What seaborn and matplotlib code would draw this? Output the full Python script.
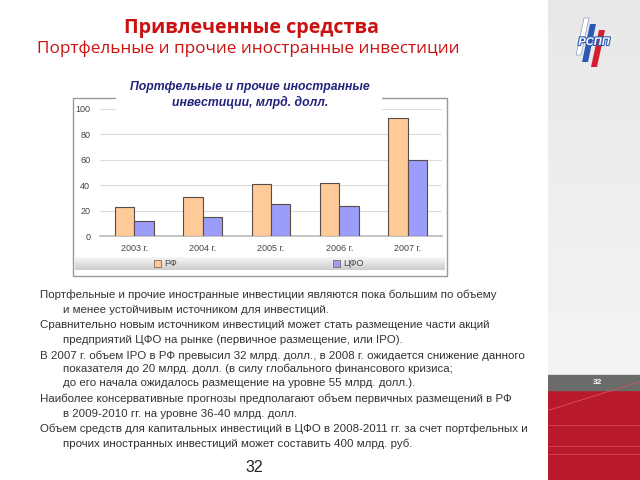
import numpy as np
import pandas as pd
import seaborn as sns
import matplotlib
matplotlib.use("Agg")
import matplotlib.pyplot as plt
import matplotlib.patheffects as pe
from matplotlib.patches import Rectangle, Polygon

# ---- data ----
years = ["2003 г.", "2004 г.", "2005 г.", "2006 г.", "2007 г."]
rf_values = [23, 31, 41, 41.5, 93]
cfo_values = [12, 15, 25, 23.5, 60]
series_names = ["РФ", "ЦФО"]
yticks = [0, 20, 40, 60, 80, 100]

slide_title = "Привлеченные средства"
slide_subtitle = "Портфельные и прочие иностранные инвестиции"
chart_title = "Портфельные и прочие иностранные\nинвестиции, млрд. долл."
body_lines = [
    ("Портфельные и прочие иностранные инвестиции являются пока большим по объему", 0),
    ("и менее устойчивым источником для инвестиций.", 1),
    ("Сравнительно новым источником инвестиций может стать размещение части акций", 0),
    ("предприятий ЦФО на рынке (первичное размещение, или IPO).", 1),
    ("В 2007 г. объем IPO в РФ превысил 32 млрд. долл., в 2008 г. ожидается снижение данного", 0),
    ("показателя до 20 млрд. долл. (в силу глобального финансового кризиса;", 1),
    ("до его начала ожидалось размещение на уровне 55 млрд. долл.).", 1),
    ("Наиболее консервативные прогнозы предполагают объем первичных размещений в РФ", 0),
    ("в 2009-2010 гг. на уровне 36-40 млрд. долл.", 1),
    ("Объем средств для капитальных инвестиций в ЦФО в 2008-2011 гг. за счет портфельных и", 0),
    ("прочих иностранных инвестиций может составить 400 млрд. руб.", 1),
]
page_number = "32"

df = pd.DataFrame({
    "year": years * 2,
    "value": rf_values + cfo_values,
    "series": [series_names[0]] * len(years) + [series_names[1]] * len(years),
})

sns.set_theme(style="white")
plt.rcParams["font.family"] = ["Liberation Sans", "DejaVu Sans"]

W, H = 640, 480
fig = plt.figure(figsize=(6.4, 4.8), dpi=100)
fig.patch.set_facecolor("white")

def fx(x):
    return x / W

def fy(y):
    return 1 - y / H

# ---- right decorative panel ----
bg = fig.add_axes([fx(548), 0, 1 - fx(548), 1], zorder=-5)
grad = np.linspace(0.91, 0.97, 256).reshape(-1, 1)
bg.imshow(np.dstack([grad, grad, grad]), aspect="auto", extent=[0, 1, 0, 1], origin="upper")
bg.add_patch(Rectangle((0, 0), 1, (480 - 390) / 480, color="#b8192b", zorder=2))
bg.add_patch(Rectangle((0, (480 - 390) / 480), 1, 15 / 480, color="#6b6b69", zorder=2))
for yy in [0.115, 0.07, 0.055]:
    bg.plot([0, 1], [yy, yy], color="#cf4455", lw=0.6, zorder=3)
bg.plot([0, 1], [0.145, 0.205], color="#d65565", lw=0.6, zorder=3)
bg.text(0.54, (480 - 382.5) / 480, page_number, color="white", fontsize=6,
        fontweight="bold", ha="center", va="center", zorder=4)
bg.set_xlim(0, 1); bg.set_ylim(0, 1); bg.axis("off")

# logo (simplified)
fig.add_artist(Polygon([(fx(590), fy(24)), (fx(596), fy(24)), (fx(588), fy(62)), (fx(582), fy(62))],
                       closed=True, facecolor="#2b59b5", edgecolor="none", zorder=3))
fig.add_artist(Polygon([(fx(599), fy(30)), (fx(605), fy(30)), (fx(597), fy(67)), (fx(591), fy(67))],
                       closed=True, facecolor="#d32030", edgecolor="none", zorder=3))
fig.add_artist(Polygon([(fx(584), fy(18)), (fx(589), fy(18)), (fx(581), fy(55)), (fx(576), fy(55))],
                       closed=True, facecolor="white", edgecolor="#8899bb", lw=0.5, zorder=2))
fig.text(fx(594), fy(42), "РСПП", fontsize=8, fontweight="bold", fontstyle="italic",
         color="white", ha="center", va="center", zorder=4,
         path_effects=[pe.withStroke(linewidth=1.6, foreground="#2b59b5")])

# ---- titles ----
fig.text(fx(251), fy(28), slide_title, fontsize=14.2, fontweight="bold", color="#cc1111",
         ha="center", va="center", family=["Open Sans", "DejaVu Sans"])
fig.text(fx(248), fy(49), slide_subtitle, fontsize=12.3, color="#cc1111",
         ha="center", va="center", family=["Open Sans", "DejaVu Sans"])

# ---- chart frame ----
fig.add_artist(Rectangle((fx(73), fy(276)), fx(447) - fx(73), fy(98) - fy(276),
                         facecolor="white", edgecolor="#9a9a9a", lw=1.0, zorder=-1))
# legend band gradient
lb = fig.add_axes([fx(75), fy(270), fx(445) - fx(75), fy(257) - fy(270)], zorder=1)
g2 = np.linspace(0.97, 0.80, 64).reshape(-1, 1)
lb.imshow(np.dstack([g2, g2, g2]), aspect="auto", extent=[0, 1, 0, 1], origin="upper")
lb.axis("off")

# ---- bar chart ----
ax = fig.add_axes([fx(100), fy(236), fx(442) - fx(100), fy(109) - fy(236)], zorder=2)
ax.patch.set_alpha(0)
sns.barplot(data=df, x="year", y="value", hue="series", palette=["#fdca98", "#9c9cfa"],
            saturation=1, width=0.57, edgecolor="#5a4a48", linewidth=0.8, ax=ax,
            legend=False, zorder=3)
ax.set_ylim(0, 100)
ax.set_yticks(yticks)
ax.set_xlim(-0.5, len(years) - 0.5)
ax.yaxis.grid(True, color="#dcdcdc", lw=0.8)
ax.set_axisbelow(True)
for s in ["top", "right", "left"]:
    ax.spines[s].set_visible(False)
ax.spines["bottom"].set_color("#bbbbbb")
ax.set_xlabel(""); ax.set_ylabel("")
ax.tick_params(axis="both", length=0, labelsize=6.5, labelcolor="#444444")
ax.tick_params(axis="x", pad=6)
ax.tick_params(axis="y", pad=7)

handles = [Rectangle((0, 0), 1, 1, facecolor=c, edgecolor="#7a6a60", lw=0.6)
           for c in ["#fdca98", "#9c9cfa"]]
leg = fig.legend(handles, series_names, loc="center", bbox_to_anchor=(fx(259), fy(264)),
                 ncol=2, frameon=False, fontsize=6.5, handlelength=0.7, handleheight=0.7,
                 handletextpad=0.4, columnspacing=17.3, labelcolor="#444444")
leg.set_zorder(4)

# title box masking the frame
fig.add_artist(Rectangle((fx(116), fy(112)), fx(382) - fx(116), fy(78) - fy(112),
                         facecolor="white", edgecolor="none", zorder=5))
fig.text(fx(250), fy(95), chart_title, fontsize=8.8, fontweight="bold", fontstyle="italic",
         color="#23237e", ha="center", va="center", linespacing=1.25, zorder=6)

# ---- body text ----
line_y = [295, 310, 325, 340, 356, 369, 383, 399, 414, 429, 444]
for (txt, ind), yy in zip(body_lines, line_y):
    fig.text(fx(40 + 23 * ind), fy(yy), txt, fontsize=8.25, color="#333333",
             ha="left", va="center")

fig.text(fx(254), fy(468), page_number, fontsize=11.5, color="#222222", ha="center", va="center")

fig.savefig("out.png", dpi=100)
